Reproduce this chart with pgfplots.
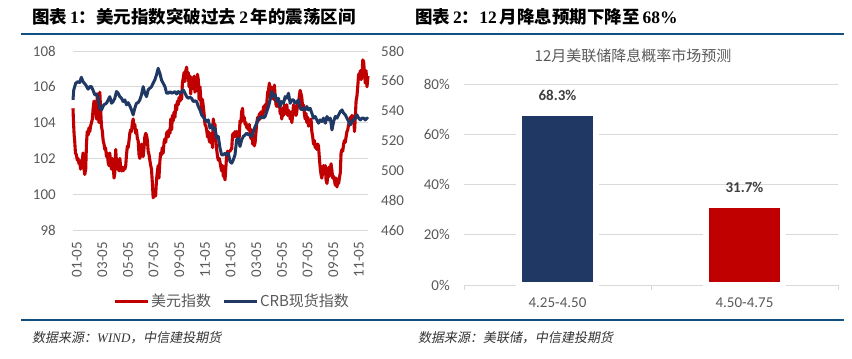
\documentclass[border=0pt]{standalone}
\usepackage{fontspec}
\usepackage{pgfplots}
\pgfplotsset{compat=1.18}
\setmainfont{Carlito}
\newfontfamily\cjk{Noto Sans CJK SC}
\newfontfamily\cjkit[FakeSlant=0.18]{Noto Sans CJK SC}
\newfontfamily\tnr{Liberation Serif}
\definecolor{dxyred}{RGB}{192,0,0}
\definecolor{crbblue}{RGB}{31,56,100}
\definecolor{gridc}{RGB}{217,217,217}
\definecolor{tickc}{RGB}{89,89,89}
\definecolor{rulec}{RGB}{18,80,130}
\definecolor{lblc}{RGB}{64,64,64}
\begin{document}
\begin{tikzpicture}
\useasboundingbox (0,0) rectangle (852pt,359pt);
% rules
\draw[rulec, line width=2.2pt] (21pt,325pt) -- (844pt,325pt);
\draw[rulec, line width=2.2pt] (21pt,39pt) -- (844pt,39pt);
% titles
\node[anchor=west, inner sep=0pt, font=\fontsize{17.5}{19}\selectfont] at (32pt,342.5pt)
  {\cjk\bfseries 图表\,{\tnr\bfseries 1}：美元指数突破过去\,{\tnr\bfseries 2}\,年的震荡区间};
\node[anchor=west, inner sep=0pt, font=\fontsize{17.5}{19}\selectfont] at (415pt,342.5pt)
  {\cjk\bfseries 图表\,{\tnr\bfseries 2}：{\tnr\bfseries 12}\,月降息预期下降至\,{\tnr\bfseries 68\%}};
% sources
\node[anchor=west, inner sep=0pt, font=\fontsize{13}{15}\selectfont, text=black!80] at (32pt,21pt)
  {\cjkit 数据来源：{\tnr\itshape WIND}，中信建投期货};
\node[anchor=west, inner sep=0pt, font=\fontsize{13}{15}\selectfont, text=black!80] at (418pt,21pt)
  {\cjkit 数据来源：美联储，中信建投期货};

% ---------- left chart ----------
\begin{axis}[
  at={(73pt,129pt)}, anchor=south west,
  scale only axis, width=295pt, height=179pt,
  xmin=-0.29, xmax=22.71, ymin=98, ymax=108,
  axis line style={draw=none}, tick style={draw=none},
  ytick={98,100,...,108},
  ymajorgrids, grid style={gridc, line width=0.8pt},
  xtick={0,2,...,22},
  xticklabels={01-05,03-05,05-05,07-05,09-05,11-05,01-05,03-05,05-05,07-05,09-05,11-05},
  xticklabel style={rotate=90, anchor=east, inner sep=0pt},
  xticklabel shift=12pt,
  yticklabel style={inner sep=0pt},
  yticklabel shift=17pt,
  ticklabel style={font=\fontsize{15}{17}\selectfont, text=tickc},
  /pgf/number format/assume math mode=true,
  clip=false,
]
\addplot[dxyred, line width=3.1pt, line join=round] coordinates {
(-0.29,104.8) (-0.25,104.0) (-0.20,103.3) (-0.16,103.0) (-0.10,102.3) (-0.03,102.2) (0.05,101.9) (0.10,102.0)
(0.18,101.7) (0.23,101.8) (0.30,101.4) (0.36,101.9) (0.42,101.7) (0.49,102.3) (0.55,101.5) (0.63,101.1)
(0.70,101.4) (0.76,102.8) (0.82,103.5) (0.89,103.3) (0.95,103.7) (1.02,103.5) (1.08,103.8) (1.15,104.0)
(1.22,104.2) (1.28,104.8) (1.35,105.2) (1.41,104.5) (1.48,104.6) (1.54,104.2) (1.60,105.6) (1.67,104.5)
(1.74,104.0) (1.80,105.7) (1.86,104.8) (1.93,103.8) (2.00,103.5) (2.06,103.0) (2.13,102.8) (2.19,102.5)
(2.25,102.6) (2.32,102.1) (2.38,102.3) (2.45,101.8) (2.51,101.6) (2.58,102.3) (2.64,101.7) (2.71,101.4)
(2.77,102.0) (2.84,101.6) (2.91,100.9) (2.97,101.2) (3.04,102.5) (3.10,101.8) (3.17,101.4) (3.23,101.9)
(3.30,101.3) (3.36,102.0) (3.43,101.5) (3.49,101.3) (3.56,101.5) (3.62,101.3) (3.69,101.5) (3.75,101.4)
(3.82,101.6) (3.88,102.2) (3.95,102.7) (4.01,102.6) (4.08,103.0) (4.14,103.4) (4.21,103.6) (4.27,103.5)
(4.34,104.0) (4.40,104.2) (4.47,103.7) (4.53,103.9) (4.60,103.4) (4.66,103.6) (4.73,103.1) (4.79,103.0)
(4.86,102.2) (4.92,102.0) (4.99,102.2) (5.05,102.8) (5.12,102.5) (5.18,102.1) (5.25,102.6) (5.31,103.2)
(5.38,103.4) (5.44,103.3) (5.51,103.0) (5.57,102.4) (5.64,102.2) (5.70,101.9) (5.77,101.6) (5.83,101.4)
(5.90,100.6) (5.96,99.8) (6.02,99.9) (6.09,100.0) (6.15,99.9) (6.22,100.8) (6.28,101.2) (6.35,101.6)
(6.41,100.9) (6.48,101.8) (6.54,102.3) (6.61,102.2) (6.67,102.6) (6.74,102.3) (6.81,102.9) (6.88,103.1)
(6.94,102.9) (7.01,103.4) (7.07,103.5) (7.14,103.2) (7.20,103.6) (7.27,103.4) (7.33,104.2) (7.40,103.6)
(7.46,104.4) (7.53,104.1) (7.59,104.6) (7.66,104.3) (7.72,105.0) (7.79,104.7) (7.85,105.2) (7.92,105.0)
(7.98,105.4) (8.05,105.2) (8.11,105.6) (8.18,105.3) (8.24,106.2) (8.31,106.5) (8.37,106.8) (8.44,106.3)
(8.50,106.9) (8.57,107.1) (8.63,106.5) (8.70,106.8) (8.76,106.0) (8.83,106.6) (8.89,105.6) (8.96,106.5)
(9.02,106.3) (9.09,105.9) (9.15,106.6) (9.22,105.7) (9.28,106.4) (9.35,105.8) (9.41,106.7) (9.48,106.4)
(9.54,105.3) (9.61,106.0) (9.67,105.4) (9.74,104.6) (9.80,105.3) (9.87,104.9) (9.93,104.5) (10.00,103.9)
(10.07,103.8) (10.13,103.6) (10.20,103.2) (10.26,103.5) (10.33,103.0) (10.39,102.9) (10.46,103.4) (10.52,103.1)
(10.59,102.6) (10.65,104.2) (10.72,103.8) (10.78,103.9) (10.85,103.0) (10.91,102.5) (10.98,102.1) (11.04,101.9)
(11.11,102.0) (11.17,101.8) (11.24,101.5) (11.30,101.3) (11.37,101.6) (11.43,101.0) (11.50,101.1) (11.56,100.8)
(11.63,101.5) (11.69,102.2) (11.76,102.4) (11.82,102.3) (11.89,102.4) (11.95,102.4) (12.02,102.5) (12.08,102.5)
(12.15,103.3) (12.21,103.4) (12.28,103.2) (12.34,103.5) (12.41,103.4) (12.47,103.5) (12.54,103.0) (12.60,102.9)
(12.67,103.2) (12.73,104.1) (12.80,104.0) (12.86,104.6) (12.93,104.8) (12.99,104.1) (13.06,104.3) (13.13,103.9)
(13.19,104.0) (13.26,103.7) (13.32,103.8) (13.39,103.6) (13.45,103.9) (13.52,103.3) (13.59,103.1) (13.65,103.6)
(13.72,102.8) (13.78,103.0) (13.85,102.7) (13.91,102.9) (13.98,103.5) (14.04,104.0) (14.11,104.3) (14.17,104.1)
(14.24,104.5) (14.30,104.2) (14.37,104.6) (14.43,104.5) (14.50,104.3) (14.56,104.9) (14.63,104.6) (14.69,105.0)
(14.76,104.8) (14.82,105.1) (14.89,105.7) (14.95,105.8) (15.02,106.2) (15.08,105.5) (15.15,106.0) (15.21,105.4)
(15.28,105.9) (15.34,105.3) (15.41,106.1) (15.47,105.5) (15.54,105.0) (15.60,104.9) (15.67,105.3) (15.73,104.9)
(15.80,105.2) (15.86,104.5) (15.93,104.6) (15.99,104.2) (16.06,104.8) (16.12,104.4) (16.19,105.0) (16.25,104.8)
(16.32,104.5) (16.38,105.0) (16.45,104.4) (16.51,104.7) (16.58,104.5) (16.64,104.2) (16.71,104.6) (16.77,104.0)
(16.84,104.4) (16.90,105.0) (16.97,104.6) (17.03,104.9) (17.10,104.4) (17.16,104.6) (17.23,105.1) (17.29,105.0)
(17.36,105.5) (17.42,105.8) (17.49,105.6) (17.55,105.4) (17.62,104.8) (17.68,105.0) (17.75,104.5) (17.81,104.2)
(17.88,104.5) (17.94,104.0) (18.01,104.3) (18.07,103.8) (18.14,104.1) (18.20,103.9) (18.27,104.2) (18.33,103.5)
(18.40,103.2) (18.46,102.8) (18.53,103.0) (18.59,102.6) (18.66,102.8) (18.72,102.5) (18.79,102.8) (18.85,102.7)
(18.92,102.0) (18.98,101.5) (19.05,101.1) (19.11,100.9) (19.18,101.2) (19.24,101.6) (19.31,101.2) (19.38,101.6)
(19.44,100.8) (19.51,100.6) (19.57,101.0) (19.64,101.5) (19.70,101.0) (19.77,101.4) (19.83,101.7) (19.90,101.3)
(19.96,100.9) (20.03,101.0) (20.09,100.8) (20.16,100.5) (20.22,100.9) (20.29,100.4) (20.35,100.7) (20.42,100.6)
(20.48,100.9) (20.55,101.2) (20.61,102.3) (20.68,102.5) (20.74,102.4) (20.81,102.8) (20.87,103.0) (20.94,102.9)
(21.00,103.2) (21.07,103.5) (21.13,103.6) (21.20,103.9) (21.26,104.0) (21.33,104.3) (21.40,104.2) (21.46,104.4)
(21.52,104.3) (21.59,104.2) (21.66,103.5) (21.72,104.3) (21.78,105.2) (21.85,105.5) (21.91,106.0) (21.98,106.7)
(22.04,106.6) (22.11,106.9) (22.17,106.4) (22.24,106.6) (22.30,107.5) (22.37,107.4) (22.43,106.8) (22.50,106.2)
(22.56,106.9) (22.63,106.0) (22.71,106.6)
};
\end{axis}
\begin{axis}[
  at={(73pt,129pt)}, anchor=south west,
  scale only axis, width=295pt, height=179pt,
  xmin=-0.29, xmax=22.71, ymin=460, ymax=580,
  hide x axis,
  axis y line*=right,
  axis line style={draw=none}, tick style={draw=none},
  ytick={460,480,...,580},
  yticklabel style={inner sep=0pt, anchor=west},
  yticklabel shift=13pt,
  ticklabel style={font=\fontsize{15}{17}\selectfont, text=tickc},
  /pgf/number format/assume math mode=true,
  legend columns=2,
  legend style={draw=none, fill=none, at={(axis description cs:0.539,-0.397)}, anchor=center,
    font=\fontsize{15}{17}\selectfont, text=tickc, inner sep=0pt,
    /tikz/every even column/.append style={column sep=9pt},
    nodes={inner xsep=2pt}},
  legend image code/.code={\draw[#1] (0pt,0pt) -- (33pt,0pt);},
  clip=false,
]
\addlegendimage{dxyred, line width=3pt}
\addlegendentry{\cjk 美元指数}
\addplot[crbblue, line width=3pt, line join=round] coordinates {
(-0.29,547.2) (-0.23,553.9) (-0.08,558.4) (0.10,559.5) (0.23,558.8) (0.36,562.4) (0.49,559.5) (0.70,557.3)
(0.89,554.4) (1.02,556.1) (1.15,556.1) (1.28,553.5) (1.41,550.6) (1.54,551.2) (1.67,548.3) (1.80,541.6)
(1.93,540.5) (2.11,543.9) (2.32,545.0) (2.45,547.2) (2.58,549.4) (2.71,545.0) (2.84,546.1) (2.97,548.3)
(3.10,552.8) (3.23,551.7) (3.36,549.4) (3.49,548.3) (3.62,546.1) (3.75,547.2) (3.88,543.9) (4.01,545.4)
(4.14,543.2) (4.27,540.5) (4.40,537.2) (4.53,541.6) (4.66,545.0) (4.79,545.4) (4.92,547.2) (5.05,550.6)
(5.18,556.1) (5.31,551.7) (5.44,549.4) (5.57,553.9) (5.70,555.0) (5.83,556.1) (5.96,558.4) (6.09,560.6)
(6.22,564.0) (6.35,568.4) (6.48,565.1) (6.61,560.6) (6.74,558.4) (6.88,556.1) (7.01,551.7) (7.14,551.7)
(7.27,552.8) (7.40,551.7) (7.53,552.1) (7.66,552.8) (7.79,551.2) (7.92,552.8) (8.05,551.7) (8.18,552.8)
(8.31,553.9) (8.44,551.7) (8.57,549.4) (8.70,548.3) (8.83,549.0) (8.96,548.3) (9.09,546.1) (9.22,546.6)
(9.35,546.1) (9.48,542.8) (9.61,540.5) (9.74,537.2) (9.92,535.0) (10.13,532.7) (10.26,533.8) (10.39,528.3)
(10.52,530.5) (10.65,527.1) (10.78,528.3) (10.91,521.6) (11.04,522.7) (11.17,514.9) (11.30,510.4) (11.43,510.4)
(11.56,511.5) (11.69,510.4) (11.82,511.5) (11.95,505.9) (12.08,504.8) (12.21,507.1) (12.34,510.4) (12.47,520.5)
(12.60,521.6) (12.73,516.0) (12.86,520.5) (12.99,522.7) (13.13,523.8) (13.26,524.9) (13.39,523.8) (13.52,523.8)
(13.65,522.7) (13.78,526.0) (13.91,529.4) (14.04,531.6) (14.17,535.0) (14.30,535.0) (14.43,536.1) (14.56,535.0)
(14.69,536.1) (14.82,539.4) (14.95,542.8) (15.08,547.2) (15.21,552.8) (15.34,549.4) (15.47,550.6) (15.60,546.1)
(15.73,548.3) (15.86,542.8) (15.99,546.1) (16.12,545.0) (16.25,549.4) (16.38,548.3) (16.51,551.7) (16.64,545.0)
(16.77,547.2) (16.90,547.2) (17.03,545.0) (17.16,546.1) (17.29,547.2) (17.42,541.6) (17.55,540.5) (17.68,541.6)
(17.81,540.5) (17.94,542.8) (18.07,540.5) (18.20,541.6) (18.33,538.3) (18.46,535.0) (18.59,536.1) (18.72,533.8)
(18.85,531.6) (18.98,533.8) (19.11,532.7) (19.24,535.0) (19.38,531.6) (19.51,536.1) (19.64,533.8) (19.77,535.0)
(19.90,527.1) (20.03,532.7) (20.16,536.1) (20.29,535.0) (20.42,537.2) (20.55,539.4) (20.68,540.5) (20.81,538.3)
(20.94,537.2) (21.07,535.0) (21.20,532.7) (21.33,530.5) (21.46,532.7) (21.59,533.8) (21.72,535.0) (21.85,537.2)
(21.98,535.0) (22.11,533.8) (22.24,535.0) (22.37,535.0) (22.50,533.8) (22.63,535.0) (22.71,534.3)
};
\addlegendentry{\cjk CRB现货指数}
\end{axis}

% ---------- right chart ----------
\node[font=\fontsize{15}{17}\selectfont, text=tickc, inner sep=0pt] at (633pt,303pt) {\cjk 12月美联储降息概率市场预测};
\begin{axis}[
  at={(464pt,74pt)}, anchor=south west,
  scale only axis, width=374pt, height=201pt,
  xmin=-0.5, xmax=1.5, ymin=0, ymax=80,
  ybar, bar width=77pt, bar shift=0pt,
  axis y line*=left, axis x line*=bottom,
  y axis line style={draw=none},
  x axis line style={draw=gridc, line width=0.8pt},
  xtick={0,1}, xticklabels={4.25-4.50,4.50-4.75},
  major tick length=0pt,
  minor xtick={-0.5,0.5,1.5},
  minor tick length=5pt,
  tick align=outside,
  minor tick style={gridc, line width=0.8pt},
  ytick={0,20,...,80}, yticklabels={0\%,20\%,40\%,60\%,80\%},
  ymajorgrids, grid style={gridc, line width=0.8pt},
  xticklabel style={anchor=base, inner sep=0pt, yshift=-23pt},
  yticklabel style={inner sep=0pt, anchor=east},
  yticklabel shift=14pt,
  ticklabel style={font=\fontsize{15}{17}\selectfont, text=tickc},
  /pgf/number format/assume math mode=true,
  nodes near coords={\pgfmathprintnumber[fixed, precision=1, fixed zerofill, assume math mode=true]{\pgfplotspointmeta}\%},
  nodes near coords style={font=\fontsize{15}{17}\selectfont\bfseries, text=lblc, anchor=south, yshift=6pt},
  clip=false,
]
\addplot[fill=crbblue, draw=white, line width=6pt] coordinates {(0,68.3)};
\addplot[fill=dxyred, draw=white, line width=6pt] coordinates {(1,31.7)};
\end{axis}
\end{tikzpicture}
\end{document}
